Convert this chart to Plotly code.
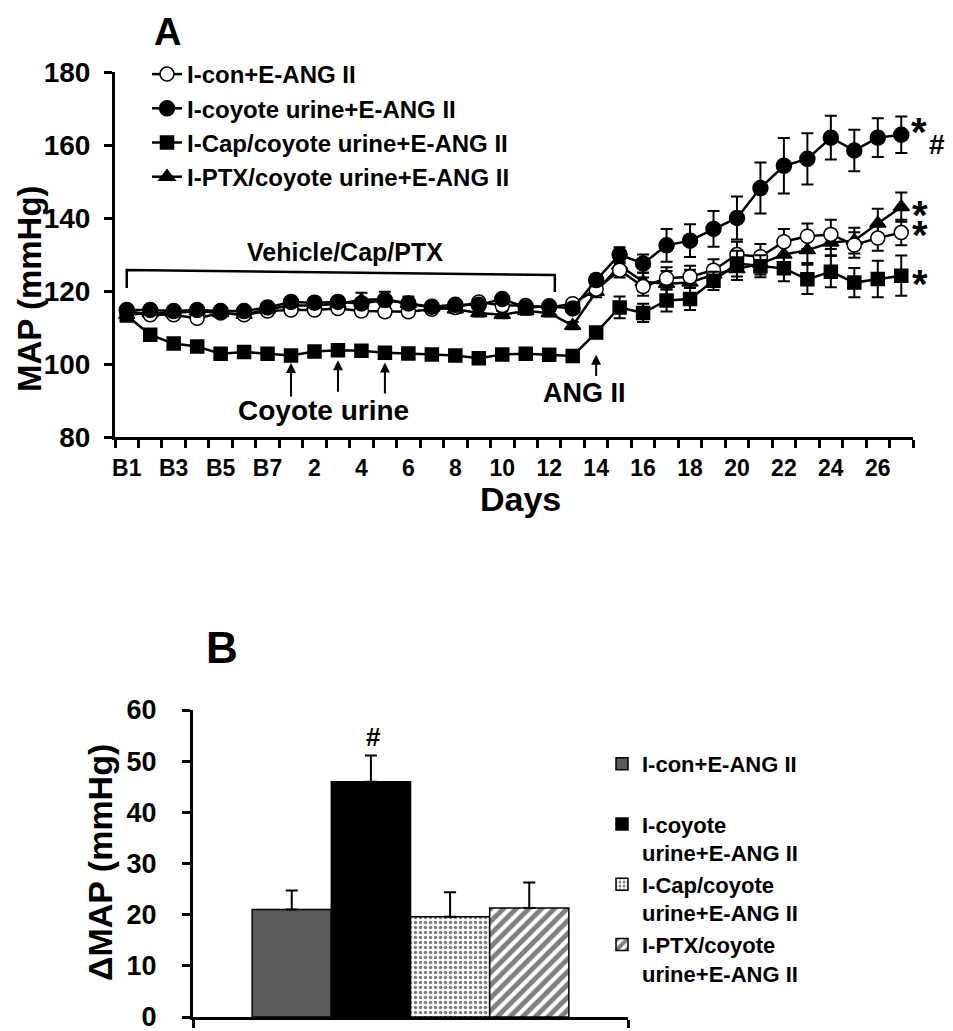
import plotly.graph_objects as go

W, H = 953, 1031
OFF = 8  # page body margin of the rendered html

# ---------------- data: panel A ----------------
days = ["B1", "B2", "B3", "B4", "B5", "B6", "B7"] + [str(d) for d in range(1, 28)]

con = [114.5, 113.5, 113.5, 112.5, 114.0, 113.5, 114.5, 114.8, 114.8, 115.2,
       114.5, 114.3, 114.3, 115.0, 115.5, 117.0, 116.0, 116.0, 115.5, 116.5,
       120.5, 125.7, 121.2, 123.5, 123.9, 125.7, 130.0, 129.4, 133.5, 135.0,
       135.5, 132.6, 134.5, 136.0]
con_err = [1.0] * 20 + [1.5, 2.0, 2.5, 3.0, 3.0, 3.0, 3.5, 3.5, 3.5, 3.5, 4.0, 3.5, 3.5, 3.5]

coyote = [114.8, 114.8, 114.5, 114.8, 114.5, 114.5, 115.5, 117.0, 116.8, 117.0,
          116.6, 117.5, 116.6, 115.7, 116.2, 116.2, 117.8, 115.5, 115.8, 115.2,
          123.0, 130.0, 127.5, 132.5, 133.8, 137.0, 140.0, 148.2, 154.3, 156.2,
          162.0, 158.5, 162.0, 162.8]
coyote_err = [1.0] * 20 + [1.5, 2.0, 2.5, 4.5, 4.5, 4.9, 5.9, 7.0, 7.6, 7.0, 6.0, 5.7, 5.3, 5.0]

cap = [113.3, 108.0, 105.6, 104.8, 102.8, 103.3, 102.8, 102.3, 103.4, 103.8,
       103.6, 103.1, 102.9, 102.6, 102.3, 101.6, 102.6, 102.8, 102.5, 102.2,
       108.6, 115.5, 114.0, 117.4, 117.8, 122.8, 127.5, 126.8, 126.2, 123.2,
       125.3, 122.3, 123.3, 124.2]
cap_err = [0.8] * 20 + [1.5, 3.0, 2.5, 3.0, 3.0, 2.5, 3.5, 3.0, 3.5, 4.0, 4.3, 4.0, 5.0, 5.5]

ptx = [113.5, 114.0, 114.0, 114.5, 114.0, 113.5, 115.0, 116.0, 116.0, 116.5,
       117.5, 117.8, 116.5, 115.5, 115.0, 114.0, 113.5, 114.5, 114.0, 110.5,
       119.8, 127.0, 122.5, 122.0, 122.3, 124.5, 126.0, 127.5, 130.0, 131.2,
       133.3, 133.8, 138.5, 143.0]
ptx_err = [1.0] * 10 + [2.0, 2.0, 2.0] + [1.0] * 7 + [1.5, 2.5, 2.5, 3.5, 3.5, 2.5, 3.0, 3.0, 3.5, 3.5, 3.5, 3.5, 4.0, 4.0]

names_a = ["I-con+E-ANG II", "I-coyote urine+E-ANG II",
           "I-Cap/coyote urine+E-ANG II", "I-PTX/coyote urine+E-ANG II"]

# ---------------- data: panel B ----------------
groups_b = ["I-con+E-ANG II<br> ", "I-coyote<br>urine+E-ANG II",
            "I-Cap/coyote<br>urine+E-ANG II", "I-PTX/coyote<br>urine+E-ANG II"]
dmap = [21.0, 46.0, 19.6, 21.3]
dmap_err = [3.7, 5.1, 4.8, 5.0]

FONT = "Liberation Sans, Arial, sans-serif"


def px(x):
    return (x - OFF) / W


def py(y):
    return 1 - (y - OFF) / H


xidx = list(range(len(days)))

fig = go.Figure()

styles = {
    "con": dict(symbol="circle", color="white", size=14, rank=1),
    "coyote": dict(symbol="circle", color="black", size=15, rank=2),
    "cap": dict(symbol="square", color="black", size=13, rank=3),
    "ptx": dict(symbol="triangle-up", color="black", size=14, rank=4),
}
series = [("ptx", ptx, ptx_err, names_a[3]),
          ("con", con, con_err, names_a[0]),
          ("cap", cap, cap_err, names_a[2]),
          ("coyote", coyote, coyote_err, names_a[1])]

for key, vals, errs, name in series:
    st = styles[key]
    fig.add_trace(go.Scatter(
        x=xidx, y=vals, name=name, mode="lines+markers",
        line=dict(color="black", width=2.5),
        marker=dict(symbol=st["symbol"], size=st["size"], color=st["color"],
                    line=dict(color="black", width=1.5)),
        error_y=dict(type="data", array=errs, color="black", thickness=2, width=6),
        legendrank=st["rank"], legendgroup=key, legend="legend",
        xaxis="x", yaxis="y",
    ))

bar_styles = [
    dict(color="#5a5a5a", pattern=None),
    dict(color="black", pattern=None),
    dict(color="white", pattern=dict(shape=".", fgcolor="black", bgcolor="white", size=5, solidity=0.38)),
    dict(color="white", pattern=dict(shape="/", fgcolor="black", bgcolor="white", size=9, solidity=0.55)),
]
for i, (g, v, e) in enumerate(zip(groups_b, dmap, dmap_err)):
    bs = bar_styles[i]
    mk = dict(color=bs["color"], line=dict(color="black", width=1.5))
    if bs["pattern"]:
        mk["pattern"] = bs["pattern"]
    fig.add_trace(go.Bar(
        x=[""], y=[v], name=g, marker=mk,
        error_y=dict(type="data", symmetric=False, array=[e], arrayminus=[0],
                     color="black", thickness=2, width=6),
        legend="legend2", legendgroup=f"b{i}", xaxis="x2", yaxis="y2",
    ))

axis_common = dict(showline=True, linecolor="black", linewidth=3, showgrid=False,
                   zeroline=False, ticks="outside", tickcolor="black", tickwidth=3,
                   ticklen=8, automargin=False)

fig.update_layout(
    width=W, height=H, margin=dict(l=0, r=0, t=0, b=0, pad=0), autosize=False,
    paper_bgcolor="white", plot_bgcolor="white",
    font=dict(family=FONT, color="black"),
    barmode="group", bargap=0.272,
    xaxis=dict(domain=[px(115), px(913)], range=[-0.5, len(days) - 0.5], anchor="y",
               tickmode="array", tickvals=xidx[::2], ticktext=days[::2],
               tickfont=dict(size=23, weight="bold"), ticklabelstandoff=8,
               minor=dict(tickmode="linear", tick0=-0.5, dtick=1, ticks="outside",
                          ticklen=8, tickwidth=3, tickcolor="black"),
               **{k: v for k, v in axis_common.items() if k not in ("ticks", "ticklen")},
               ticks="", ticklen=0),
    yaxis=dict(domain=[py(437), py(72)], range=[80, 180], anchor="x",
               tickmode="linear", tick0=80, dtick=20,
               tickfont=dict(size=28, weight="bold"), ticklabelstandoff=8, **axis_common),
    xaxis2=dict(domain=[px(193), px(628)], anchor="y2", tickson="boundaries",
                showticklabels=False, **axis_common),
    yaxis2=dict(domain=[py(1017), py(710)], range=[0, 60], anchor="x2",
                tickmode="linear", tick0=0, dtick=10,
                tickfont=dict(size=27, weight="bold"), ticklabelstandoff=20, **axis_common),
    legend=dict(x=px(147), y=py(52), xanchor="left", yanchor="top",
                bgcolor="rgba(0,0,0,0)", font=dict(size=24, weight="bold"),
                tracegroupgap=0, itemwidth=30),
    legend2=dict(x=px(602), y=py(743), xanchor="left", yanchor="top",
                 bgcolor="rgba(0,0,0,0)", font=dict(size=22, weight="bold"),
                 tracegroupgap=0, itemwidth=30, valign="top"),
    showlegend=True,
)

ann = []


def txt(text, x, y, size, angle=0):
    ann.append(dict(text=text, x=px(x), y=py(y), xref="paper", yref="paper",
                    showarrow=False, xanchor="center", yanchor="middle",
                    textangle=angle, font=dict(size=size, weight="bold", family=FONT)))


txt("A", 167, 32, 38)
txt("B", 222, 647, 44)
txt("Vehicle/Cap/PTX", 345, 252, 25)
txt("Coyote urine", 323, 410, 28)
txt("ANG II", 584, 393, 27)
txt("Days", 520, 499, 34)
txt("MAP (mmHg)", 29, 289, 33, -90)
txt("ΔMAP (mmHg)", 100, 863, 34, -90)
txt("*", 919, 132, 40)
txt("#", 937, 144, 28)
txt("*", 920, 215, 40)
txt("*", 920, 235, 40)
txt("*", 920, 284, 40)
txt("#", 373, 737, 26)

# arrows for coyote urine exposure (days 1, 3, 5) and ANG II start (day 14)
for d, tip, tail in [("1", 100.3, 90.7), ("3", 101.0, 92.0), ("5", 100.4, 91.5), ("14", 102.5, 96.3)]:
    i = days.index(d)
    ann.append(dict(x=i, y=tip, ax=i, ay=tail, xref="x", yref="y", axref="x", ayref="y",
                    text="", showarrow=True, arrowhead=2, arrowsize=1, arrowwidth=2,
                    arrowcolor="black"))

fig.update_layout(annotations=ann)

# treatment bracket (Vehicle/Cap/PTX period)
i0, i1 = days.index("B1"), days.index("12") + 0.24
fig.add_shape(type="path", xref="x", yref="y",
              path=f"M {i0},120.8 L {i0},125.75 L {i1},124.4 L {i1},119.7",
              line=dict(color="black", width=2.5))

fig.write_html("out.html")
